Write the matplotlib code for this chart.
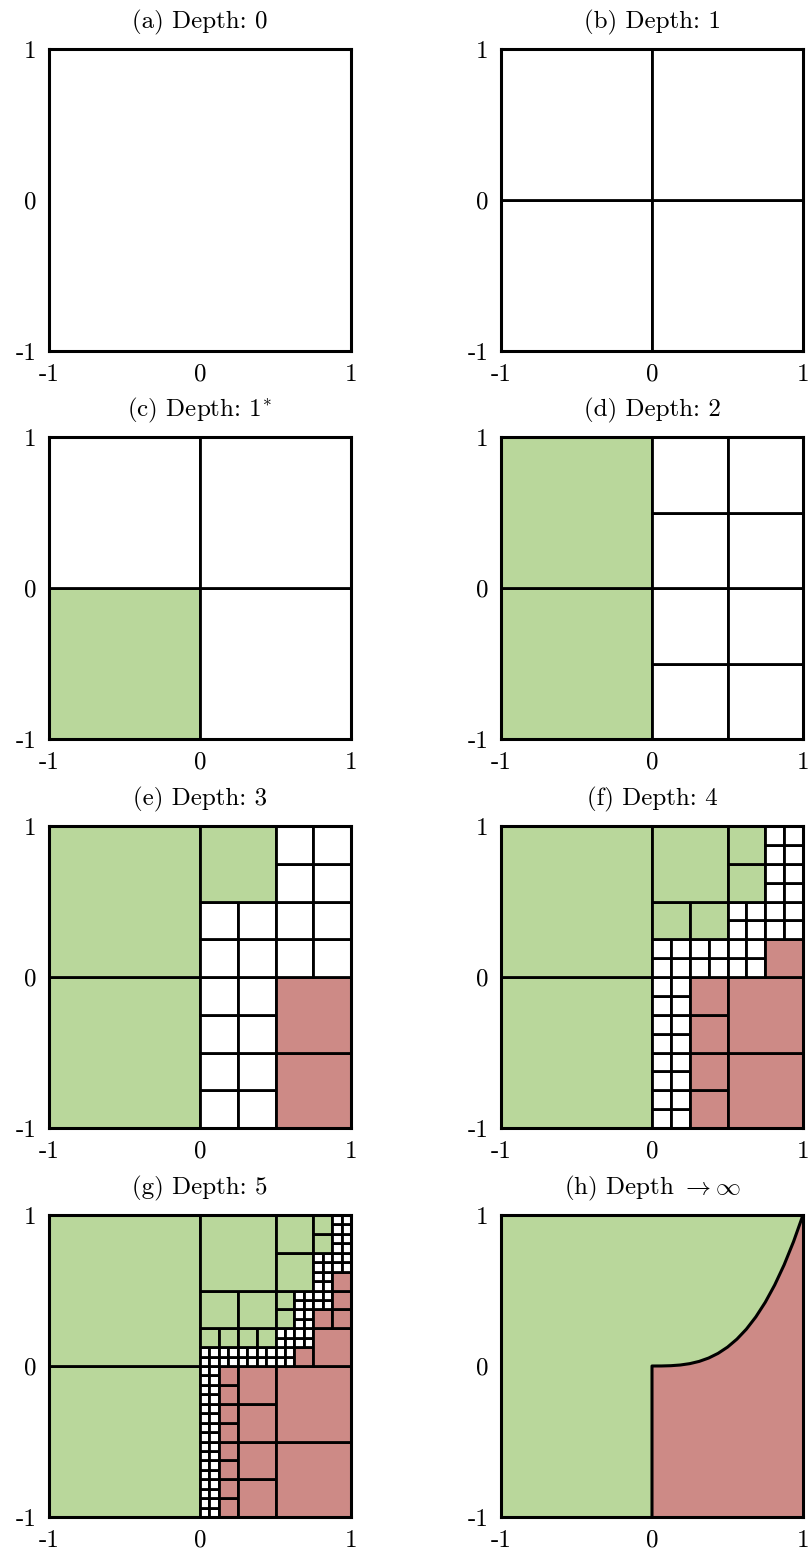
import matplotlib
matplotlib.use("Agg")
import matplotlib.pyplot as plt
from matplotlib.patches import Rectangle, Polygon
import numpy as np

plt.rcParams['font.family'] = ['cmr10', 'DejaVu Serif']
plt.rcParams['mathtext.fontset'] = 'cm'
plt.rcParams['axes.unicode_minus'] = False

# boundary curve y = f(x) on x in [0, 1] (region below it and right of x=0 is "red")
bound_x = [0, 0.0625, 0.125, 0.1875, 0.25, 0.3125, 0.375, 0.4375, 0.5,
           0.5625, 0.625, 0.6875, 0.75, 0.8125, 0.875, 0.9375, 1.0]
bound_y = [0, 0.0002, 0.002, 0.0066, 0.0156, 0.0305, 0.0527, 0.0837, 0.125,
           0.178, 0.2441, 0.325, 0.4219, 0.5364, 0.6699, 0.824, 1.0]

titles = ['(a) Depth: 0', '(b) Depth: 1', r'(c) Depth: $1^{\!*}$', '(d) Depth: 2',
          '(e) Depth: 3', '(f) Depth: 4', '(g) Depth: 5', r'(h) Depth $\rightarrow\infty$']
depths = [0, 1, 1, 2, 3, 4, 5]
# how many leaves get classified after the last subdivision (for the 1* panel)
extra_classified = [0, 0, 1, 0, 0, 0, 0]

tick_vals = [-1, 0, 1]
tick_labels = ['-1', '0', '1']

GREEN = '#b9d79b'
RED = '#cd8a86'


def f(x):
    return np.interp(x, bound_x, bound_y)


def classify(x0, y0, s):
    x1, y1 = x0 + s, y0 + s
    if x1 <= 0 or y0 >= f(x1):
        return 'green'
    if x0 > 0 and y1 < f(x0):
        return 'red'
    return None


def build(depth, extra):
    # leaves: (x0, y0, size, state), state None = not classified yet
    leaves = [(-1.0, -1.0, 2.0, None)]
    for _ in range(depth):
        new = []
        for x0, y0, s, st in leaves:
            if st is not None:
                new.append((x0, y0, s, st))
                continue
            c = classify(x0, y0, s)
            if c is not None:
                new.append((x0, y0, s, c))
            else:
                h = s / 2
                for dy in (0, h):
                    for dx in (0, h):
                        new.append((x0 + dx, y0 + dy, h, None))
        leaves = new
    done = 0
    out = []
    for x0, y0, s, st in leaves:
        if st is None and done < extra:
            st = classify(x0, y0, s) or 'white'
            done += 1
        out.append((x0, y0, s, st))
    return out


fig = plt.figure(figsize=(8.1, 15.5), dpi=100)
W, H = 810, 1550
lefts = [49, 501]
tops = [49, 437, 826, 1215]
size = 302

axes = []
for i in range(8):
    r, c = divmod(i, 2)
    ax = fig.add_axes([lefts[c] / W, 1 - (tops[r] + size) / H, size / W, size / H])
    axes.append(ax)

colors = {'green': GREEN, 'red': RED, 'white': 'white', None: 'white'}

for i, ax in enumerate(axes):
    if i < 7:
        for x0, y0, s, st in build(depths[i], extra_classified[i]):
            ax.add_patch(Rectangle((x0, y0), s, s, facecolor=colors[st],
                                   edgecolor='black', lw=2.0))
    else:
        ax.add_patch(Rectangle((-1, -1), 2, 2, facecolor=GREEN, edgecolor='none'))
        pts = [(0, -1)] + list(zip(bound_x, bound_y)) + [(1, -1)]
        ax.add_patch(Polygon(pts, closed=True, facecolor=RED, edgecolor='none'))
        ax.plot([0] + bound_x, [-1] + bound_y, color='black', lw=2.2,
                solid_joinstyle='round')
    ax.set_xlim(-1, 1)
    ax.set_ylim(-1, 1)
    ax.set_xticks(tick_vals)
    ax.set_xticklabels(tick_labels)
    ax.set_yticks(tick_vals)
    ax.set_yticklabels(tick_labels)
    ax.tick_params(length=0, labelsize=18, pad=9)
    for sp in ax.spines.values():
        sp.set_linewidth(2.2)
    ax.set_title(titles[i], fontsize=18, pad=15)

fig.savefig('out.png', dpi=100)
